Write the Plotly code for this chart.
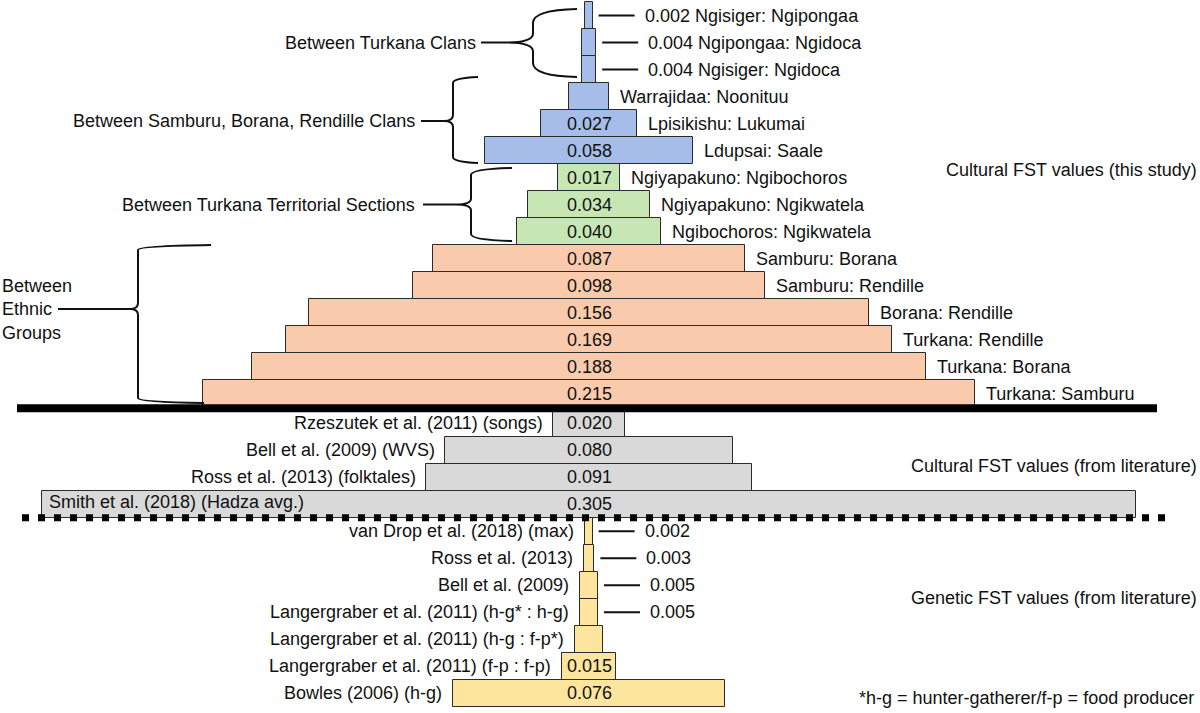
import plotly.graph_objects as go

# ---------------- data ----------------
study_pairs = ["Ngisiger: Ngipongaa", "Ngipongaa: Ngidoca", "Ngisiger: Ngidoca",
               "Warrajidaa: Noonituu", "Lpisikishu: Lukumai", "Ldupsai: Saale",
               "Ngiyapakuno: Ngibochoros", "Ngiyapakuno: Ngikwatela", "Ngibochoros: Ngikwatela",
               "Samburu: Borana", "Samburu: Rendille", "Borana: Rendille",
               "Turkana: Rendille", "Turkana: Borana", "Turkana: Samburu"]
study_fst = [0.002, 0.004, 0.004, 0.011, 0.027, 0.058,
             0.017, 0.034, 0.040,
             0.087, 0.098, 0.156, 0.169, 0.188, 0.215]
study_level = ["clan"] * 6 + ["section"] * 3 + ["ethnic"] * 6

group_labels = ["Between Turkana Clans", "Between Samburu, Borana, Rendille Clans",
                "Between Turkana Territorial Sections", "Between<br>Ethnic<br>Groups"]

lit_cultural_sources = ["Rzeszutek et al. (2011) (songs)", "Bell et al. (2009) (WVS)",
                        "Ross et al. (2013) (folktales)", "Smith et al. (2018) (Hadza avg.)"]
lit_cultural_fst = [0.020, 0.080, 0.091, 0.305]

genetic_sources = ["van Drop et al. (2018) (max)", "Ross et al. (2013)", "Bell et al. (2009)",
                   "Langergraber et al. (2011) (h-g* : h-g)",
                   "Langergraber et al. (2011) (h-g : f-p*)",
                   "Langergraber et al. (2011) (f-p : f-p)", "Bowles (2006) (h-g)"]
genetic_fst = [0.002, 0.003, 0.005, 0.005, 0.008, 0.015, 0.076]

section_titles = ["Cultural FST values (this study)", "Cultural FST values (from literature)",
                  "Genetic FST values (from literature)"]
footnote = "*h-g = hunter-gatherer/f-p = food producer"

# ---------------- layout helpers ----------------
W, H = 1200, 713
PXU = 3590.0          # pixels per FST unit
CX = 589.0            # pixel x of bar centre line
ROW_PX = 27.0
ROW0 = 15.5
FONT = "Liberation Sans, Arial, Helvetica, sans-serif"
FS = 18
colors = {"clan": "#a5bde8", "section": "#c6e6b3", "ethnic": "#f9caab",
          "litc": "#d9d9d9", "gen": "#fde59d"}


def dx(px):
    return px / PXU


def ypix(pos):
    return ROW0 + ROW_PX * pos


def ypos(py):
    return (py - ROW0) / ROW_PX


def xp(px):
    return px / W


def yp(py):
    return 1 - py / H


n1, n2, n3 = len(study_fst), len(lit_cultural_fst), len(genetic_fst)
pos_study = [i for i in range(n1)]
pos_litc = [n1 + i + 0.1 for i in range(n2)]
pos_gen = [n1 + n2 + i + 0.1 for i in range(n3)]

fig = go.Figure()


def add_bars(vals, pos, color):
    fig.add_trace(go.Bar(
        orientation="h", x=vals, base=[-v / 2 for v in vals], y=pos, width=1.0,
        marker=dict(color=color, line=dict(color="#2b2b2b", width=1)),
        hoverinfo="skip", showlegend=False))


for lvl in ["clan", "section", "ethnic"]:
    idx = [i for i, l in enumerate(study_level) if l == lvl]
    add_bars([study_fst[i] for i in idx], [pos_study[i] for i in idx], colors[lvl])
add_bars(lit_cultural_fst, pos_litc, colors["litc"])
add_bars(genetic_fst, pos_gen, colors["gen"])

ann = []
shapes = []
font = dict(family=FONT, size=FS, color="#111111")


def text(x, y, t, anchor="left", xref="x", yref="y", align="left"):
    ann.append(dict(x=x, y=y, xref=xref, yref=yref, text=t, showarrow=False,
                    xanchor=anchor, yanchor="middle", font=font, align=align))


def leader(v, y):
    shapes.append(dict(type="line", xref="x", yref="y", x0=v / 2 + dx(6), x1=v / 2 + dx(42),
                       y0=y, y1=y, line=dict(color="#111111", width=2)))


# study rows
for v, y, name in zip(study_fst, pos_study, study_pairs):
    if v < 0.0065:
        leader(v, y)
        text(v / 2 + dx(50), y, f"{v:.3f} {name}")
    else:
        if v >= 0.013:
            text(0, y, f"{v:.3f}", "center")
        text(v / 2 + dx(9), y, name)

# literature cultural
for v, y, name in zip(lit_cultural_fst, pos_litc, lit_cultural_sources):
    text(0, y, f"{v:.3f}", "center")
    if v * PXU / 2 > 450:
        text(-v / 2 + dx(5), y - 0.1, name)
    else:
        text(-v / 2 - dx(8), y, name, "right")

# genetic
for v, y, name in zip(genetic_fst, pos_gen, genetic_sources):
    if v < 0.0065:
        leader(v, y)
        text(v / 2 + dx(50), y, f"{v:.3f}")
    elif v >= 0.013:
        text(0, y, f"{v:.3f}", "center")
    text(-v / 2 - dx(9), y, name, "right")

# separators
sep1 = (pos_study[-1] + pos_litc[0]) / 2
sep2 = pos_litc[-1] + 0.5
shapes.append(dict(type="line", xref="paper", yref="y", x0=xp(17), x1=xp(1157),
                   y0=sep1, y1=sep1, line=dict(color="black", width=8)))
shapes.append(dict(type="line", xref="paper", yref="y", x0=xp(22), x1=xp(1170),
                   y0=sep2, y1=sep2, line=dict(color="black", width=7, dash="7px,9px")))


# braces (pixel geometry converted to paper coordinates)
def brace(xe_t, xe_b, xb, xt, xl, yt, ym, yb, ra, rc):
    pts = [("M", [(xl, ym)]), ("L", [(xt, ym)]),
           ("M", [(xe_t, yt)]), ("Q", [(xb, yt + 1), (xb, yt + ra)]),
           ("L", [(xb, ym - rc)]), ("Q", [(xb, ym), (xt, ym)]),
           ("Q", [(xb, ym), (xb, ym + rc)]), ("L", [(xb, yb - ra)]),
           ("Q", [(xb, yb - 1), (xe_b, yb)])]
    path = " ".join(c + " " + " ".join(f"{xp(a):.5f},{yp(b):.5f}" for a, b in p) for c, p in pts)
    shapes.append(dict(type="path", xref="paper", yref="paper", path=path,
                       line=dict(color="#111111", width=2)))


brace(577, 577, 533, 506, 481, 9, ypix(1), 77, 14, 9)
brace(478, 478, 453, 444, 421, 77, 121, 163, 6, 6)
brace(512, 512, 471, 456, 423, 168, ypix(7), 241, 7, 6)
brace(211, 204, 138, 130, 58, 245, 309, 403, 5, 6)

text(xp(478), 1, group_labels[0], "right", "paper", "y")
text(xp(417), ypos(121), group_labels[1], "right", "paper", "y")
text(xp(417), 7, group_labels[2], "right", "paper", "y")
ann.append(dict(x=0, y=yp(309), xref="paper", yref="paper", text=group_labels[3],
                showarrow=False, xanchor="left", yanchor="middle", align="left",
                font=font))

# section titles
text(xp(1199), yp(170), section_titles[0], "right", "paper", "paper")
text(xp(1199), yp(466), section_titles[1], "right", "paper", "paper")
text(xp(1199), yp(598), section_titles[2], "right", "paper", "paper")
text(xp(1196), yp(698), footnote, "right", "paper", "paper")

fig.update_layout(
    width=W, height=H, margin=dict(l=0, r=0, t=0, b=0),
    paper_bgcolor="white", plot_bgcolor="white",
    xaxis=dict(range=[-CX / PXU, (W - CX) / PXU], visible=False, fixedrange=True),
    yaxis=dict(range=[(H - ROW0) / ROW_PX, -ROW0 / ROW_PX], visible=False, fixedrange=True),
    barmode="overlay", bargap=0, annotations=ann, shapes=shapes,
    font=dict(family=FONT, size=FS),
)

fig.write_html("out.html", config={"displayModeBar": False},
               post_script="document.body.style.margin='0';document.body.style.overflow='hidden';")
